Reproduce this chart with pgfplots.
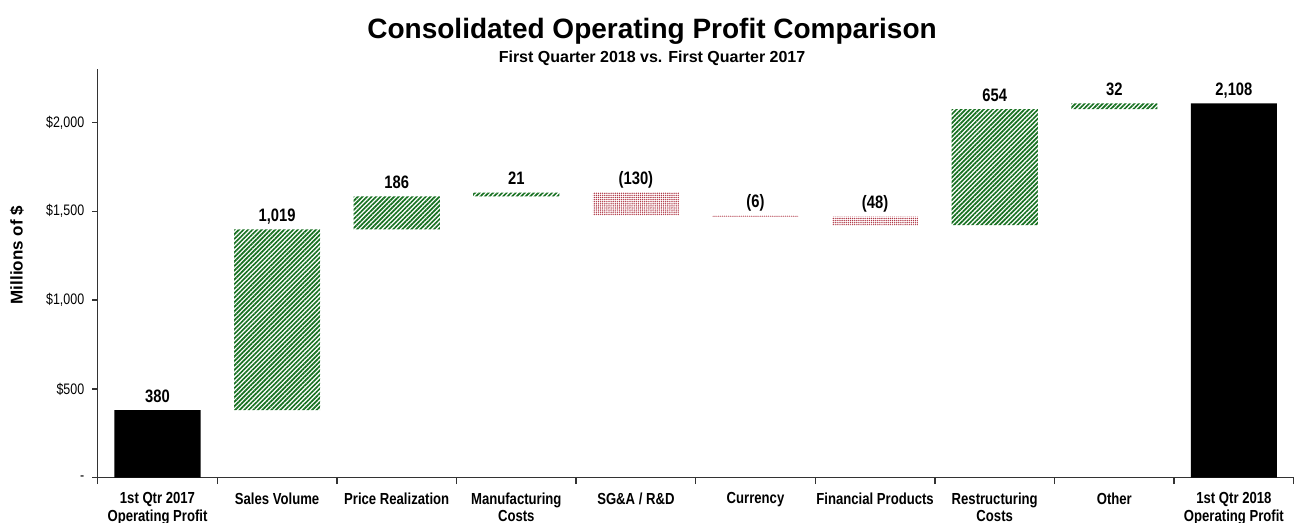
\documentclass[border=0pt]{standalone}
\usepackage{fontspec}
\setmainfont{Liberation Sans}
\newfontfamily\narrow[FakeStretch=0.82]{Liberation Sans}
\usepackage{pgfplots}
\pgfplotsset{compat=1.18}
\usetikzlibrary{patterns.meta}
\definecolor{posgreen}{RGB}{22,112,32}
\definecolor{negred}{RGB}{175,55,70}

\pgfplotstableread{
x base pos neg tot
0 0    0    0   380
1 380  1019 0   0
2 1399 186  0   0
3 1585 21   0   0
4 1476 0    130 0
5 1470 0    6   0
6 1422 0    48  0
7 1422 654  0   0
8 2076 32   0   0
9 0    0    0   2108
}\wfdata

\pgfplotstableread{
x top lab
0 380  380
1 1399 {1,019}
2 1585 186
3 1606 21
4 1606 (130)
5 1476 (6)
6 1470 (48)
7 2076 654
8 2108 32
9 2108 {2,108}
}\labdata

\begin{document}
\begin{tikzpicture}
\begin{axis}[
  name=main,
  scale only axis, width=598pt, height=204.2pt,
  xmin=-0.5, xmax=9.5, ymin=0, ymax=2300,
  ybar stacked, bar width=0.72,
  axis lines*=left,
  axis line style={black!80, line width=0.7pt},
  tick align=outside,
  xtick={0,...,9},
  xticklabels={{1st Qtr 2017\\Operating Profit}, {Sales Volume}, {Price Realization}, {Manufacturing\\Costs}, {SG\&A / R\&D}, {Currency}, {Financial Products}, {Restructuring\\Costs}, {Other}, {1st Qtr 2018\\Operating Profit}},
  xticklabel style={align=center, font=\narrow\bfseries\fontsize{8}{8.6}\selectfont, yshift=-1.4pt},
  major x tick style={draw=none},
  minor xtick={-0.5,0.5,...,9.5},
  minor x tick style={black!80, line width=0.7pt},
  minor tick length=3.2pt,
  ytick={0,500,1000,1500,2000},
  yticklabels={{-}, {\$500}, {\$1,000}, {\$1,500}, {\$2,000}},
  yticklabel style={font=\narrow\fontsize{7.6}{8}\selectfont, xshift=-0.6pt},
  major y tick style={black!80, line width=0.7pt},
  major tick length=2.6pt,
  ylabel={Millions of \$},
  ylabel style={font=\bfseries\fontsize{8.5}{9}\selectfont, at={(axis description cs:-0.0675,0.545)}, anchor=center, rotate=0},
  clip=false,
]
\addplot[draw=none, fill=none] table[x=x, y=base] {\wfdata};
\addplot[draw=none, pattern={Lines[angle=45, distance=1.6pt, line width=0.85pt]}, pattern color=posgreen] table[x=x, y=pos] {\wfdata};
\addplot[draw=none, pattern={Dots[distance=1.05pt, radius=0.38pt]}, pattern color=negred] table[x=x, y=neg] {\wfdata};
\addplot[draw=none, fill=black] table[x=x, y=tot] {\wfdata};
\node[anchor=base, font=\bfseries\fontsize{14}{16}\selectfont] at (axis description cs:0.4635,1.0754) {Consolidated Operating Profit Comparison};
\node[anchor=base, font=\bfseries\fontsize{8}{9}\selectfont] at (axis description cs:0.4635,1.0162) {First Quarter 2018 vs. First Quarter 2017};
\end{axis}
\begin{axis}[
  scale only axis, width=598pt, height=204.2pt,
  xmin=-0.5, xmax=9.5, ymin=0, ymax=2300,
  hide axis, clip=false,
]
\addplot[draw=none, mark=none, nodes near coords, point meta=explicit symbolic,
  every node near coord/.style={anchor=base, yshift=4pt, text=black, font=\narrow\bfseries\fontsize{9}{10}\selectfont}]
  table[x=x, y=top, meta=lab] {\labdata};
\end{axis}
\pgfresetboundingbox
\path ([shift={(-48.85pt,-22.65pt)}]main.south west) rectangle ([shift={(0.65pt,34.65pt)}]main.north east);
\end{tikzpicture}
\end{document}
